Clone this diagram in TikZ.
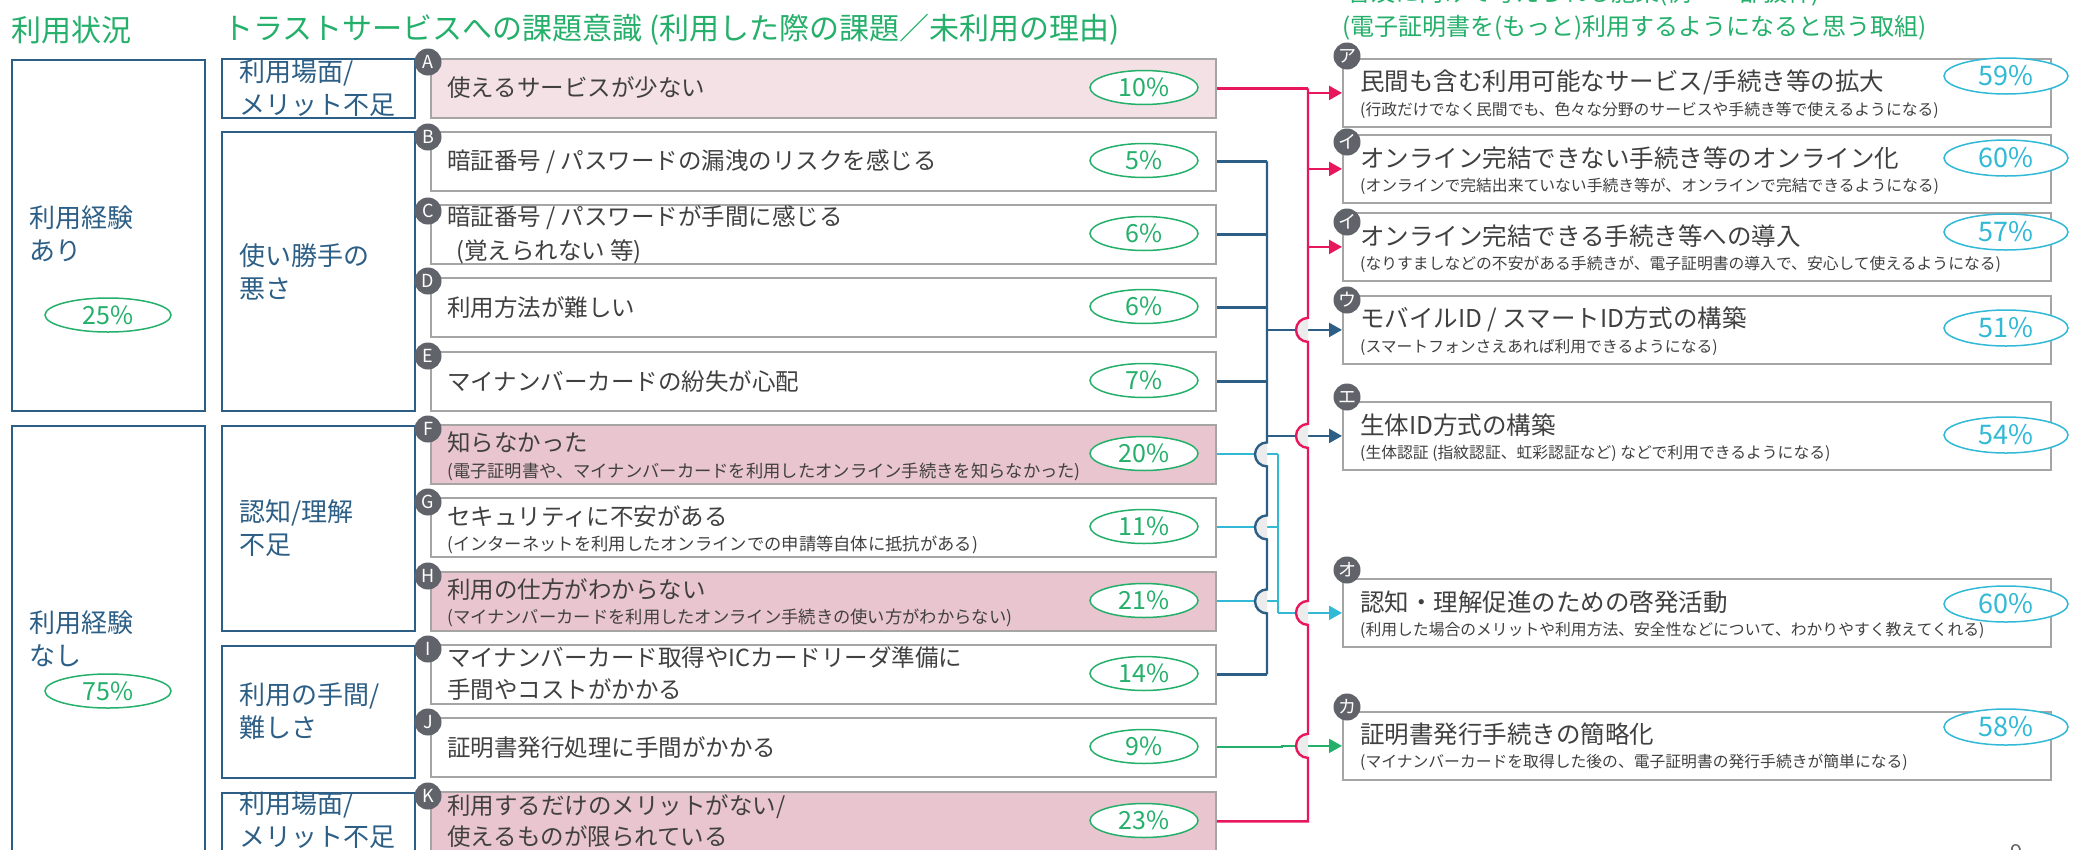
\documentclass[tikz,border=0pt]{standalone}
\usepackage{fontspec}
\setmainfont{Noto Sans CJK JP}
\usetikzlibrary{arrows.meta,calc,shapes.geometric}
\definecolor{cgreen}{RGB}{36,176,106}
\definecolor{ccyan}{RGB}{49,185,214}
\definecolor{cred}{RGB}{232,23,93}
\definecolor{cblue}{RGB}{45,95,134}
\definecolor{cgrayc}{RGB}{96,99,105}
\definecolor{cborder}{RGB}{165,165,165}
\definecolor{cpinkA}{RGB}{244,225,229}
\definecolor{cpink}{RGB}{233,197,207}
\definecolor{ctext}{RGB}{64,64,64}
\definecolor{chop}{RGB}{236,236,236}
\tikzset{
 catbox/.style={draw=cblue, line width=1.8pt, anchor=north west, inner sep=0pt},
 cattext/.style={anchor=west, inner sep=0pt, text=cblue, font=\fontsize{26}{33}\selectfont, align=left},
 rowbox/.style={draw=cborder, line width=1.8pt, anchor=north west, minimum width=785pt, minimum height=59pt, inner sep=0pt},
 rowtext/.style={anchor=west, inner sep=0pt, text=ctext, font=\fontsize{23.5}{28}\selectfont},
 rowsub/.style={anchor=west, inner sep=0pt, text=ctext, font=\fontsize{17.3}{20}\selectfont},
 pctL/.style={ellipse, draw=cgreen, fill=white, line width=1.5pt, minimum width=108pt, minimum height=34pt, inner sep=0pt, text=cgreen, font=\fontsize{25}{25}\selectfont},
 pctC/.style={ellipse, draw=cgreen, fill=white, line width=1.5pt, minimum width=126pt, minimum height=34pt, inner sep=0pt, text=cgreen, font=\fontsize{25}{25}\selectfont},
 pctR/.style={ellipse, draw=ccyan, fill=white, line width=1.5pt, minimum width=124pt, minimum height=36pt, inner sep=0pt, text=ccyan, font=\fontsize{27}{27}\selectfont},
 lab/.style={circle, fill=cgrayc, text=white, minimum size=27pt, inner sep=0pt, font=\fontsize{18}{18}\selectfont},
 pbox/.style={draw=cborder, fill=white, line width=1.8pt, anchor=north west, minimum width=708pt, minimum height=68pt, inner sep=0pt},
 ptitle/.style={anchor=west, inner sep=0pt, text=ctext, font=\fontsize{24.5}{28}\selectfont},
 psub/.style={anchor=west, inner sep=0pt, text=ctext, font=\fontsize{15.8}{18}\selectfont},
 heading/.style={anchor=west, inner sep=0pt, text=cgreen, font=\fontsize{30}{33}\selectfont},
 headingR/.style={anchor=west, inner sep=0pt, text=cgreen, font=\fontsize{24}{28}\selectfont},
 redl/.style={draw=cred, line width=2.4pt},
 bluel/.style={draw=cblue, line width=2.4pt},
 cyanl/.style={draw=ccyan, line width=2pt},
 greenl/.style={draw=cgreen, line width=2pt},
 tip/.style={-{Triangle[length=13pt,width=14pt]}},
 hopfill/.style={fill=chop},
}
\begin{document}
\begin{tikzpicture}[x=1pt,y=-1pt]
\fill[white] (0,0) rectangle (2080,849);
\useasboundingbox (0,0) rectangle (2080,849);

% headings
\node[heading] (h1) at (11,30) {利用状況};
\node[heading] (h2) at (223,30) {トラストサービスへの課題意識 (利用した際の課題／未利用の理由)};
\node[headingR] (h3a) at (1347,-6) {普及に向けて考えられる施策(例：一部抜粋)};
\node[headingR] (h3b) at (1342,28) {(電子証明書を(もっと)利用するようになると思う取組)};

% usage status column
\node[catbox, minimum width=193pt, minimum height=351pt] (u1) at (11,59) {};
\node[cattext] (u1t) at (29,234) {利用経験\\あり};
\node[pctC] (u1p) at (108,315) {25\%};
\node[catbox, minimum width=193pt, minimum height=450pt] (u2) at (11,425) {};
\node[cattext] (u2t) at (29,638.5) {利用経験\\なし};
\node[pctC] (u2p) at (108,691) {75\%};

% category column
\node[catbox, minimum width=193pt, minimum height=59pt] (k1) at (221,58) {};
\node[cattext] (k1t) at (239,88.5) {利用場面/\\メリット不足};
\node[catbox, minimum width=193pt, minimum height=279pt] (k2) at (221,131) {};
\node[cattext] (k2t) at (239,271.5) {使い勝手の\\悪さ};
\node[catbox, minimum width=193pt, minimum height=205pt] (k3) at (221,425) {};
\node[cattext] (k3t) at (239,528) {認知/理解\\不足};
\node[catbox, minimum width=193pt, minimum height=132pt] (k4) at (221,645) {};
\node[cattext] (k4t) at (239,711.5) {利用の手間/\\難しさ};
\node[catbox, minimum width=193pt, minimum height=80pt] (k5) at (221,792) {};
\node[cattext] (k5t) at (239,820) {利用場面/\\メリット不足};

% issue rows
\node[rowbox, fill=cpinkA] (rA) at (430,58) {};
\node[rowbox, fill=white] (rB) at (430,131) {};
\node[rowbox, fill=white] (rC) at (430,204) {};
\node[rowbox, fill=white] (rD) at (430,277) {};
\node[rowbox, fill=white] (rE) at (430,351) {};
\node[rowbox, fill=cpink] (rF) at (430,424) {};
\node[rowbox, fill=white] (rG) at (430,497) {};
\node[rowbox, fill=cpink] (rH) at (430,571) {};
\node[rowbox, fill=white] (rI) at (430,644) {};
\node[rowbox, fill=white] (rJ) at (430,717) {};
\node[rowbox, fill=cpink] (rK) at (430,791) {};

\node[rowtext] (tA) at (447,88) {使えるサービスが少ない};
\node[rowtext] (tB) at (447,162) {暗証番号 / パスワードの漏洩のリスクを感じる};
\node[rowtext] (tC1) at (447,218) {暗証番号 / パスワードが手間に感じる};
\node[rowtext] (tC2) at (456,252) {(覚えられない 等)};
\node[rowtext] (tD) at (447,308) {利用方法が難しい};
\node[rowtext] (tE) at (447,382) {マイナンバーカードの紛失が心配};
\node[rowtext] (tF1) at (447,443) {知らなかった};
\node[rowsub] (tF2) at (447,472) {(電子証明書や、マイナンバーカードを利用したオンライン手続きを知らなかった)};
\node[rowtext] (tG1) at (447,517) {セキュリティに不安がある};
\node[rowsub] (tG2) at (447,545) {(インターネットを利用したオンラインでの申請等自体に抵抗がある)};
\node[rowtext] (tH1) at (447,590) {利用の仕方がわからない};
\node[rowsub] (tH2) at (447,618) {(マイナンバーカードを利用したオンライン手続きの使い方がわからない)};
\node[rowtext] (tI1) at (447,658) {マイナンバーカード取得やICカードリーダ準備に};
\node[rowtext] (tI2) at (447,690) {手間やコストがかかる};
\node[rowtext] (tJ) at (447,748) {証明書発行処理に手間がかかる};
\node[rowtext] (tK1) at (447,807) {利用するだけのメリットがない/};
\node[rowtext] (tK2) at (447,837) {使えるものが限られている};

\node[pctL] (pA) at (1144,87.5) {10\%};
\node[pctL] (pB) at (1144,160.5) {5\%};
\node[pctL] (pC) at (1144,233.5) {6\%};
\node[pctL] (pD) at (1144,306.5) {6\%};
\node[pctL] (pE) at (1144,380.5) {7\%};
\node[pctL] (pF) at (1144,453.5) {20\%};
\node[pctL] (pG) at (1144,526.5) {11\%};
\node[pctL] (pH) at (1144,600.5) {21\%};
\node[pctL] (pI) at (1144,673.5) {14\%};
\node[pctL] (pJ) at (1144,746.5) {9\%};
\node[pctL] (pK) at (1144,820.5) {23\%};

\node[lab] (lA) at (428,62) {A};
\node[lab] (lB) at (428,137) {B};
\node[lab] (lC) at (428,211) {C};
\node[lab] (lD) at (428,281) {D};
\node[lab] (lE) at (428,356) {E};
\node[lab] (lF) at (428,429) {F};
\node[lab] (lG) at (428,502) {G};
\node[lab] (lH) at (428,576) {H};
\node[lab] (lI) at (428,649) {I};
\node[lab] (lJ) at (428,722) {J};
\node[lab] (lK) at (428,796) {K};

% measure boxes
\node[pbox] (pa) at (1342,58) {};
\node[pbox] (pi1) at (1342,134) {};
\node[pbox] (pi2) at (1342,212) {};
\node[pbox] (pu) at (1342,295) {};
\node[pbox] (pe) at (1342,401) {};
\node[pbox] (po) at (1342,578) {};
\node[pbox] (pk) at (1342,711) {};

\node[ptitle] (ta1) at (1360,82) {民間も含む利用可能なサービス/手続き等の拡大};
\node[psub] (ta2) at (1360,110) {(行政だけでなく民間でも、色々な分野のサービスや手続き等で使えるようになる)};
\node[ptitle] (ti1) at (1360,158) {オンライン完結できない手続き等のオンライン化};
\node[psub] (ti2) at (1360,186) {(オンラインで完結出来ていない手続き等が、オンラインで完結できるようになる)};
\node[ptitle] (tj1) at (1360,236) {オンライン完結できる手続き等への導入};
\node[psub] (tj2) at (1360,264) {(なりすましなどの不安がある手続きが、電子証明書の導入で、安心して使えるようになる)};
\node[ptitle] (tu1) at (1360,319) {モバイルID / スマートID方式の構築};
\node[psub] (tu2) at (1360,347) {(スマートフォンさえあれば利用できるようになる)};
\node[ptitle] (te1) at (1360,425) {生体ID方式の構築};
\node[psub] (te2) at (1360,453) {(生体認証 (指紋認証、虹彩認証など) などで利用できるようになる)};
\node[ptitle] (to1) at (1360,602) {認知・理解促進のための啓発活動};
\node[psub] (to2) at (1360,630) {(利用した場合のメリットや利用方法、安全性などについて、わかりやすく教えてくれる)};
\node[ptitle] (tk1) at (1360,734) {証明書発行手続きの簡略化};
\node[psub] (tk2) at (1360,762) {(マイナンバーカードを取得した後の、電子証明書の発行手続きが簡単になる)};

\node[pctR] (qa) at (2006,76) {59\%};
\node[pctR] (qi1) at (2006,158) {60\%};
\node[pctR] (qi2) at (2006,232) {57\%};
\node[pctR] (qu) at (2006,328) {51\%};
\node[pctR] (qe) at (2006,435) {54\%};
\node[pctR] (qo) at (2006,604) {60\%};
\node[pctR] (qk) at (2006,727) {58\%};

\node[lab] (la) at (1347,56) {ア};
\node[lab] (li1) at (1347,142) {イ};
\node[lab] (li2) at (1347,222) {イ};
\node[lab] (lu) at (1347,300) {ウ};
\node[lab] (le) at (1347,397) {エ};
\node[lab] (lo) at (1347,570) {オ};
\node[lab] (lk) at (1347,707) {カ};

\node[anchor=center, inner sep=0pt, text=cgrayc, font=\fontsize{22}{22}\selectfont] (pg) at (2017,853) {9};

% bus coordinates
\coordinate (redbus) at (1308,0);
\coordinate (bluebus) at (1267,0);
\coordinate (cyanbus) at (1278,0);
\coordinate (jog) at (1282,0);

% horizontal connectors (drawn first, hops go over them)
\draw[bluel] (rB.east) -- (rB.east -| bluebus);
\draw[bluel] (rC.east) -- (rC.east -| bluebus);
\draw[bluel] (rD.east) -- (rD.east -| bluebus);
\draw[bluel] (rE.east) -- (rE.east -| bluebus);
\draw[bluel] (rI.east) -- (rI.east -| bluebus);
\draw[bluel, tip] (pu.west -| bluebus) -- (pu.west);
\draw[bluel, tip] (pe.west -| bluebus) -- (pe.west);
\draw[cyanl] (rF.east) -- (rF.east -| cyanbus);
\draw[cyanl] (rG.east) -- (rG.east -| cyanbus);
\draw[cyanl] (rH.east) -- (rH.east -| cyanbus);
\draw[cyanl] (rF.east -| cyanbus) -- (po.west -| cyanbus);
\draw[cyanl, tip] (po.west -| cyanbus) -- (po.west);
\draw[greenl, tip] (rJ.east) -- (rJ.east -| jog) -- (pk.west -| jog) -- (pk.west);
\draw[redl] (rA.east) -- (rA.east -| redbus);
\draw[redl, tip] (pa.west -| redbus) -- (pa.west);
\draw[redl, tip] (pi1.west -| redbus) -- (pi1.west);
\draw[redl, tip] (pi2.west -| redbus) -- (pi2.west);

% hop fills
\foreach \n in {pu,pe,po,pk}{
  \fill[hopfill] ($(\n.west -| redbus)+(0,12)$) arc[start angle=270,end angle=90,radius=12pt] -- cycle;
}
\foreach \n in {rF,rG,rH}{
  \fill[hopfill] ($(\n.east -| bluebus)+(0,-12)$) arc[start angle=90,end angle=270,radius=12pt] -- cycle;
}

% red bus with hops (upwards from K)
\draw[redl] (rK.east) -- (rK.east -| redbus)
  -- ($(pk.west -| redbus)+(0,12)$) arc[start angle=270,end angle=90,radius=12pt]
  -- ($(po.west -| redbus)+(0,12)$) arc[start angle=270,end angle=90,radius=12pt]
  -- ($(pe.west -| redbus)+(0,12)$) arc[start angle=270,end angle=90,radius=12pt]
  -- ($(pu.west -| redbus)+(0,12)$) arc[start angle=270,end angle=90,radius=12pt]
  -- (rA.east -| redbus);

% blue bus with hops (downwards from B)
\draw[bluel] (rB.east -| bluebus)
  -- ($(rF.east -| bluebus)+(0,-12)$) arc[start angle=90,end angle=270,radius=12pt]
  -- ($(rG.east -| bluebus)+(0,-12)$) arc[start angle=90,end angle=270,radius=12pt]
  -- ($(rH.east -| bluebus)+(0,-12)$) arc[start angle=90,end angle=270,radius=12pt]
  -- (rI.east -| bluebus);
\end{tikzpicture}
\end{document}
